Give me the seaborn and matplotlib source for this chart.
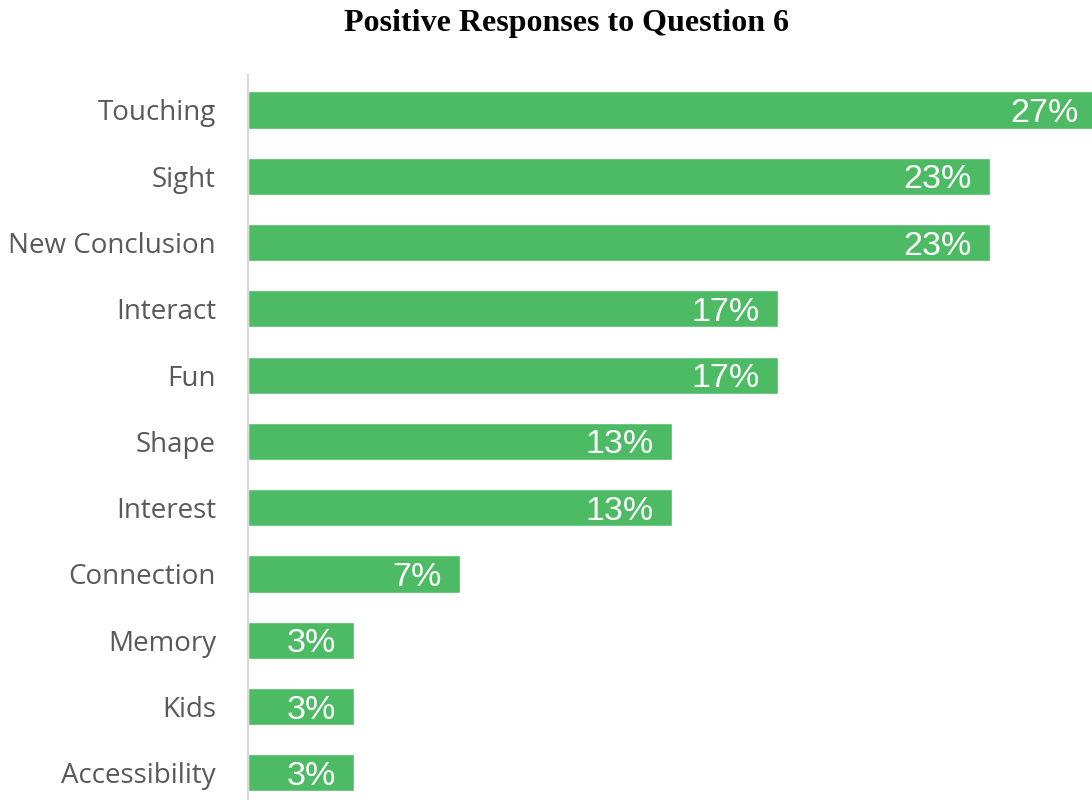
import matplotlib
matplotlib.use("Agg")
import matplotlib.pyplot as plt
import seaborn as sns
import pandas as pd

# Share of positive responses per theme (percent of 30 respondents)
categories = ["Touching", "Sight", "New Conclusion", "Interact", "Fun", "Shape",
              "Interest", "Connection", "Memory", "Kids", "Accessibility"]
percent = [26.67, 23.33, 23.33, 16.67, 16.67, 13.33, 13.33, 6.67, 3.33, 3.33, 3.33]
title = "Positive Responses to Question 6"

df = pd.DataFrame({"category": categories, "percent": percent})

sns.set_theme(style="white")
plt.rcParams["font.family"] = ["Open Sans", "DejaVu Sans"]

W, H = 1092, 800
fig = plt.figure(figsize=(W / 100, H / 100), dpi=100)
ax = fig.add_axes([248 / W, 0, (W - 248) / W, 1 - 75 / H])

bar_color = "#4CBB64"
sns.barplot(data=df, y="category", x="percent", orient="h", color=bar_color,
            width=0.56, saturation=1, ax=ax, order=categories)

ax.set_xlim(0, 26.54)
ax.set_ylim(10.41, -0.528)
ax.set_xlabel("")
ax.set_ylabel("")
ax.set_xticks([])

for side in ["top", "right", "bottom"]:
    ax.spines[side].set_visible(False)
ax.spines["left"].set_color("#D9D9D9")
ax.spines["left"].set_linewidth(1.5)

ax.tick_params(axis="y", length=0, pad=23, labelsize=20, labelcolor="#595959")

# Value labels inside the bar ends
for i, v in enumerate(percent):
    ax.annotate(f"{v:.0f}%", xy=(v, i), xytext=(-18, 0), textcoords="offset pixels",
                ha="right", va="center_baseline", color="white", fontsize=24.5,
                family=["Liberation Sans", "DejaVu Sans"], annotation_clip=False,
                clip_on=False)

fig.text(567 / W, 1 - 23 / H, title, ha="center", va="center",
         fontsize=23, fontweight="bold", family=["Liberation Serif", "DejaVu Serif"],
         color="black")

fig.savefig("out.png", dpi=100)
